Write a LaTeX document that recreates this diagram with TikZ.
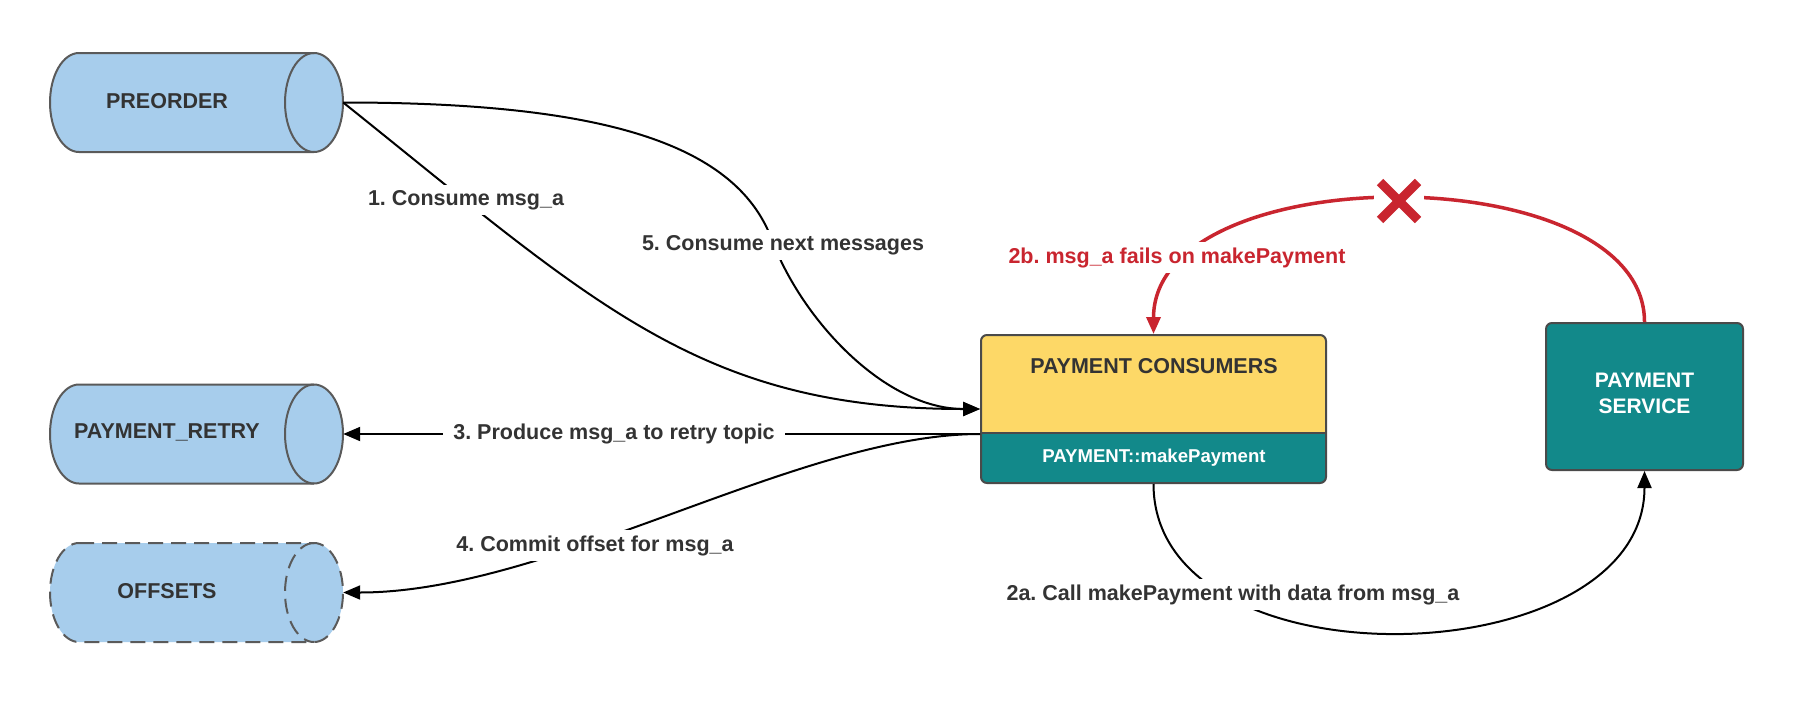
\documentclass[tikz,border=0pt]{standalone}
\usepackage{fontspec}
\setmainfont{Liberation Sans}
\usetikzlibrary{arrows.meta}
\frenchspacing
\definecolor{cylfill}{HTML}{A7CDEC}
\definecolor{cyldraw}{HTML}{5A5A5A}
\definecolor{pcyellow}{HTML}{FDD867}
\definecolor{tealc}{HTML}{12898A}
\definecolor{boxdraw}{HTML}{4A4A4A}
\definecolor{txt}{HTML}{333333}
\definecolor{redc}{HTML}{C9252F}
\newcommand\drawcyl[2]{%
  \path[cylstyle,#2] (79,#1+49.5) -- (314,#1+49.5) arc[start angle=90,end angle=-90,x radius=29,y radius=49.5] -- (79,#1-49.5) arc[start angle=270,end angle=90,x radius=29,y radius=49.5] -- cycle;
  \path[cylstyle,#2,fill=none] (314,#1+49.5) arc[start angle=90,end angle=270,x radius=29,y radius=49.5];
}
\begin{document}
\begin{tikzpicture}[x=1pt,y=1pt,
  lbl/.style={font=\bfseries\fontsize{21.5}{26}\selectfont, text=txt, anchor=base, inner sep=0pt},
  edgelbl/.style={lbl, fill=white, inner xsep=7pt, inner ysep=5pt},
  redlbl/.style={edgelbl, text=redc},
  cylstyle/.style={fill=cylfill, draw=cyldraw, line width=2pt},
  cylarea/.style={minimum width=293pt, minimum height=99pt, inner sep=0pt},
  conn/.style={draw=black, line width=2pt, -{Triangle[length=17pt,width=14pt]}},
  redconn/.style={draw=redc, line width=3.5pt, -{Triangle[length=17pt,width=14pt]}},
  boxout/.style={draw=boxdraw, line width=2pt, rounded corners=6pt, inner sep=0pt}
]
\fill[white] (0,0) rectangle (1814,-704);
\useasboundingbox (0,0) rectangle (1814,-704);

% cylinders
\drawcyl{-102.5}{}
\node[cylarea] (preorder) at (196.5,-102.5) {};
\node[lbl] (preordert) at (167,-108) {PREORDER};

\drawcyl{-434}{}
\node[cylarea] (retry) at (196.5,-434) {};
\node[lbl] (retryt) at (167,-438) {PAYMENT\_RETRY};

\drawcyl{-592.5}{dash pattern=on 15pt off 8pt}
\node[cylarea] (offsets) at (196.5,-592.5) {};
\node[lbl] (offsetst) at (167,-598) {OFFSETS};

% payment consumers
\begin{scope}
  \clip[rounded corners=6pt] (981,-335) rectangle (1326,-483);
  \fill[tealc] (981,-335) rectangle (1326,-483);
  \fill[pcyellow] (981,-335) rectangle (1326,-433);
\end{scope}
\draw[boxdraw, line width=2pt] (981,-433) -- (1326,-433);
\node[boxout, minimum width=345pt, minimum height=148pt] (pc) at (1153.5,-409) {};
\node[lbl] (pct) at (1154,-373) {PAYMENT CONSUMERS};
\node[lbl, text=white, font=\bfseries\fontsize{18.6}{22}\selectfont] (pcm) at (1154,-462) {PAYMENT::makePayment};

% payment service
\node[boxout, fill=tealc, minimum width=197pt, minimum height=147pt] (ps) at (1644.5,-396.5) {};
\node[lbl, text=white, align=center, anchor=center, font=\bfseries\fontsize{21}{26}\selectfont] (pst) at (1644.5,-393) {PAYMENT\\SERVICE};

% connectors
\draw[conn] (preorder.east) .. controls +(250,-200) and +(-281,0) .. (pc.west);
\draw[conn] (preorder.east) .. controls +(250,0) and (735,-140) .. (772,-240) .. controls (802,-320) and +(-95,0) .. (pc.west);
\draw[conn] ([yshift=-25pt]pc.west) -- (retry.east);
\draw[conn] ([yshift=-25pt]pc.west) .. controls +(-181,0) and +(207,0) .. (offsets.east);
\draw[conn] (pc.south) .. controls +(0,-206) and +(0,-206) .. (ps.south);
\draw[redconn] (ps.north) .. controls +(0,166) and +(0,178) .. (pc.north);

% cross
\node[fill=white, minimum width=50pt, minimum height=14pt, inner sep=0pt] (xmark) at (1399,-201) {};
\draw[redc, line width=9pt] ([shift={(-19,19)}]xmark.center) -- ([shift={(19,-19)}]xmark.center);
\draw[redc, line width=9pt] ([shift={(-19,-19)}]xmark.center) -- ([shift={(19,19)}]xmark.center);

% labels
\node[edgelbl] (l1) at (466,-205) {1. Consume msg\_a};
\node[edgelbl] (l5) at (783,-250) {5. Consume next messages};
\node[edgelbl, inner xsep=10pt] (l3) at (614,-439) {3. Produce msg\_a to retry topic};
\node[edgelbl] (l4) at (595,-551) {4. Commit offset for msg\_a};
\node[edgelbl] (l2a) at (1233,-600) {2a. Call makePayment with data from msg\_a};
\node[redlbl] (l2b) at (1177,-263) {2b. msg\_a fails on makePayment};
\end{tikzpicture}
\end{document}
